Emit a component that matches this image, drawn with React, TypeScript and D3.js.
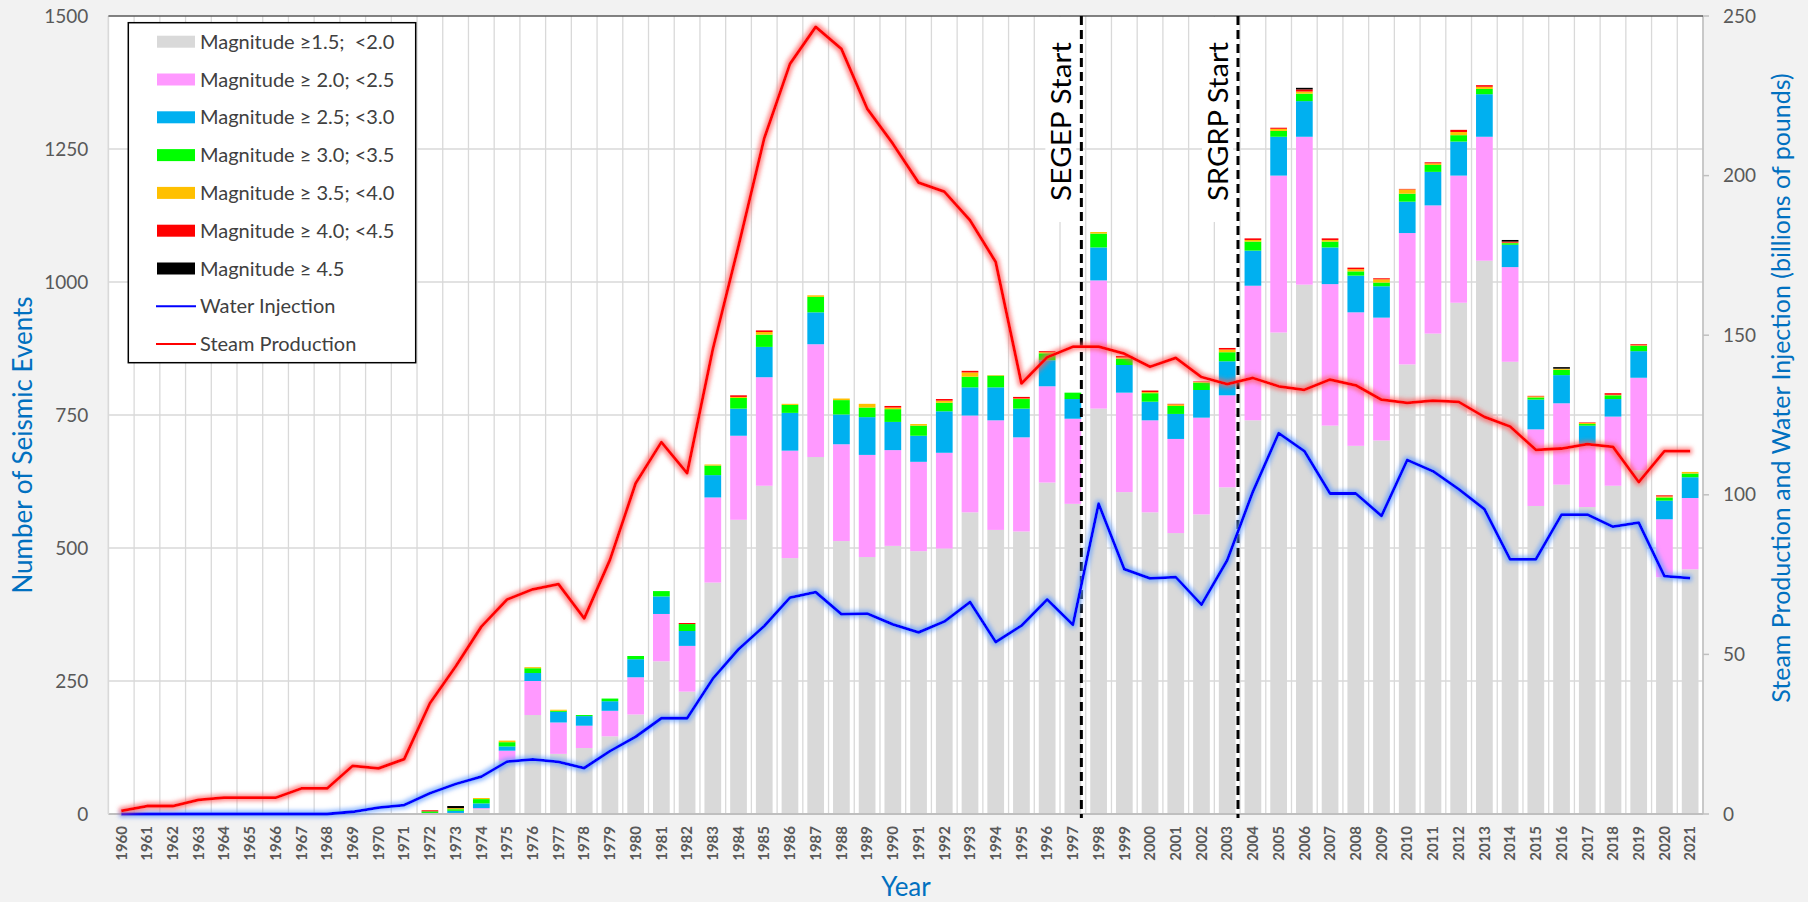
import React from "react";
import * as d3 from "d3";

const years: number[] = d3.range(1960, 2022);

// Seismic event counts by magnitude class (1960..2021)
const mag15: number[] = [0,0,0,0,0,0,0,0,0,0,0,0, 0,2,9,100,186,113,124,146,187,287,230,435,553,617,481,671,513,483,504,494,499,567,534,531,623,583,762,605,567,528,563,614,740,905,995,730,692,702,845,903,961,1040,850,579,619,577,617,646,445,460];
const mag20: number[] = [0,0,0,0,0,0,0,0,0,0,0,0, 1,0,2,19,64,59,42,48,70,89,86,160,158,204,202,212,182,192,180,168,180,182,206,177,181,160,241,187,173,177,182,173,253,295,278,266,251,231,247,241,239,233,178,144,153,118,130,174,109,134];
const mag25: number[] = [0,0,0,0,0,0,0,0,0,0,0,0, 1,4,9,8,15,20,18,18,34,33,28,42,51,57,71,60,56,71,53,49,78,53,62,54,49,37,62,52,35,47,52,64,66,73,67,69,69,59,59,63,64,80,42,56,53,35,33,50,35,39];
const mag30: number[] = [0,0,0,0,0,0,0,0,0,0,0,0, 3,3,8,8,9,2,2,5,6,10,13,18,20,23,15,29,27,18,24,19,16,20,22,18,13,12,26,12,16,15,14,17,17,11,14,11,8,7,15,13,12,10,3,4,10,3,7,10,6,7];
const mag35: number[] = [0,0,0,0,0,0,0,0,0,0,0,0, 0,2,2,3,2,2,0,0,0,0,0,2,2,5,2,3,3,7,3,3,4,8,1,1,2,0,3,2,2,3,1,5,3,4,4,3,4,6,8,3,6,4,1,2,2,2,1,1,2,3];
const mag40: number[] = [0,0,0,0,0,0,0,0,0,0,0,0, 2,0,0,0,0,0,0,0,0,0,2,0,3,3,0,0,0,0,3,0,3,3,0,3,2,0,0,3,3,1,1,3,3,2,4,3,3,2,1,2,4,3,2,1,0,1,3,2,2,0];
const mag45: number[] = [0,0,0,0,0,0,0,0,0,0,0,0, 0,4,0,0,0,0,0,0,0,0,0,0,0,0,0,0,0,0,0,0,0,0,0,0,0,0,0,0,0,0,0,0,0,0,3,0,0,0,0,0,0,0,3,0,3,0,0,0,0,0];

// Right axis series (billions of pounds)
const steamProduction: number[] = [1.0,2.5,2.5,4.4,5.1,5.1,5.1,8.0,8.0,15.1,14.3,17.2,34.7,46.2,58.7,67.2,70.4,72.0,61.3,79.6,103.6,116.5,106.8,145.6,178,211.7,235,246.6,239.7,221,210,197.8,195,186,172.9,134.9,143.1,146.4,146.4,144.2,140.1,142.9,136.9,134.7,136.6,134,132.9,136.1,134.3,129.8,128.8,129.5,129.1,124.4,121.4,114.1,114.5,115.9,115,104,113.7,113.7];
const waterInjection: number[] = [0,0,0,0,0,0,0,0,0,0.7,2.0,2.8,6.5,9.4,11.7,16.4,17.1,16.3,14.4,19.7,24.2,30,30,42.4,51.6,58.9,67.8,69.5,62.6,62.8,59.4,56.9,60.3,66.4,53.9,59,67.2,59.3,97.2,76.7,73.8,74.2,65.6,79.5,101,119.3,113.7,100.4,100.4,93.4,110.9,107.4,101.8,95.5,79.8,79.8,93.8,93.8,90,91.3,74.5,73.9];

const seriesNames: string[] = [
  "Magnitude \u22651.5;  <2.0",
  "Magnitude \u2265 2.0; <2.5",
  "Magnitude \u2265 2.5; <3.0",
  "Magnitude \u2265 3.0; <3.5",
  "Magnitude \u2265 3.5; <4.0",
  "Magnitude \u2265 4.0; <4.5",
  "Magnitude \u2265 4.5",
];
const seriesColors: string[] = ["#d9d9d9", "#ff99ff", "#00b0f0", "#00ff00", "#ffc000", "#ff0000", "#000000"];
const leftTicks: number[] = [0, 250, 500, 750, 1000, 1250, 1500];
const rightTicks: number[] = [0, 50, 100, 150, 200, 250];
const annotations: { label: string; at: number }[] = [
  { label: "SEGEP Start", at: 1997.33 },
  { label: "SRGRP Start", at: 2003.42 },
];

const W = 1808, H = 902;
const L = 108.4, R = 1703, T = 16, B = 814;
const FONT = "Lato, 'Open Sans', sans-serif";

export default function App() {
  const x = d3.scaleBand<number>().domain(years).range([L, R]).paddingInner(0.35).paddingOuter(0.175);
  const step = x.step();
  const bw = x.bandwidth();
  const cx = (yr: number) => (x(yr) as number) + bw / 2;
  const yL = d3.scaleLinear().domain([0, 1500]).range([B, T]);
  const yR = d3.scaleLinear().domain([0, 250]).range([B, T]);
  const xCont = d3.scaleLinear().domain([1960, 2021]).range([cx(1960), cx(2021)]);

  const table = years.map((yr, i) => ({
    year: yr,
    s0: mag15[i], s1: mag20[i], s2: mag25[i], s3: mag30[i], s4: mag35[i], s5: mag40[i], s6: mag45[i],
  }));
  const keys = ["s0", "s1", "s2", "s3", "s4", "s5", "s6"];
  const stacked = d3.stack<any>().keys(keys)(table);

  const line = d3.line<number>().x((_, i) => cx(years[i])).y((v) => yR(v));

  const gridColor = "#d9d9d9";
  const boundaries = years.map((yr) => (x(yr) as number) - (step - bw) / 2).concat([R]);

  return (
    <div style={{ position: "absolute", left: 0, top: 0 }}>
      <svg width={W} height={H} style={{ display: "block", fontFamily: FONT }}>
        <defs>
          <filter id="glowRed" x="-5%" y="-10%" width="110%" height="120%">
            <feMorphology in="SourceAlpha" operator="dilate" radius="2" result="d" />
            <feGaussianBlur in="d" stdDeviation="2.2" result="b" />
            <feFlood floodColor="#ff5a5a" floodOpacity="0.7" />
            <feComposite in2="b" operator="in" result="g" />
            <feMerge>
              <feMergeNode in="g" />
              <feMergeNode in="SourceGraphic" />
            </feMerge>
          </filter>
          <filter id="glowBlue" x="-5%" y="-10%" width="110%" height="120%">
            <feMorphology in="SourceAlpha" operator="dilate" radius="2" result="d" />
            <feGaussianBlur in="d" stdDeviation="2.2" result="b" />
            <feFlood floodColor="#5f9bff" floodOpacity="0.7" />
            <feComposite in2="b" operator="in" result="g" />
            <feMerge>
              <feMergeNode in="g" />
              <feMergeNode in="SourceGraphic" />
            </feMerge>
          </filter>
        </defs>
        <rect x={0} y={0} width={W} height={H} fill="#f2f2f2" />
        <rect x={L} y={T} width={R - L} height={B - T} fill="#ffffff" />

        {/* vertical grid */}
        {boundaries.map((bx, i) => (
          <line key={"vg" + i} x1={bx} x2={bx} y1={T} y2={B} stroke={gridColor} strokeWidth={1.3} />
        ))}
        {/* horizontal grid */}
        {leftTicks.slice(1, -1).map((t) => (
          <line key={"hg" + t} x1={L} x2={R} y1={yL(t)} y2={yL(t)} stroke={gridColor} strokeWidth={1.3} />
        ))}

        {/* bars */}
        {stacked.map((layer, li) => (
          <g key={"layer" + li} fill={seriesColors[li]}>
            {layer.map((d: any, i: number) =>
              d[1] - d[0] > 0 ? (
                <rect key={i} x={x(years[i])} width={bw} y={yL(d[1])} height={yL(d[0]) - yL(d[1])} />
              ) : null
            )}
          </g>
        ))}

        {/* axes lines */}
        <line x1={L} x2={R} y1={B} y2={B} stroke="#bfbfbf" strokeWidth={2} />
        <line x1={L} x2={L} y1={T} y2={B} stroke="#d9d9d9" strokeWidth={1.5} />
        <line x1={R} x2={R} y1={T} y2={B} stroke="#bfbfbf" strokeWidth={1.5} />
        <line x1={L} x2={R} y1={T} y2={T} stroke="#595959" strokeWidth={1.5} />

        {/* annotation labels + dashed lines */}
        {annotations.map((a) => {
          const ax = xCont(a.at);
          return (
            <g key={a.label}>
              <rect x={ax - 36} y={T + 1} width={31} height={205} fill="#ffffff" />
              <text
                transform={`translate(${ax - 10},${201}) rotate(-90)`}
                fontSize={27}
                fill="#000000"
                textLength={159}
                lengthAdjust="spacingAndGlyphs"
              >
                {a.label}
              </text>
              <line x1={ax} x2={ax} y1={T} y2={B + 4} stroke="#000000" strokeWidth={3} strokeDasharray="9,5" />
            </g>
          );
        })}

        {/* lines */}
        <path d={line(waterInjection) as string} fill="none" stroke="#0000ff" strokeWidth={2.8} strokeLinejoin="round" filter="url(#glowBlue)" />
        <path d={line(steamProduction) as string} fill="none" stroke="#ff0000" strokeWidth={2.8} strokeLinejoin="round" filter="url(#glowRed)" />

        {/* left ticks */}
        {leftTicks.map((t) => (
          <text key={"lt" + t} x={L - 20} y={yL(t)} dy="0.35em" textAnchor="end" fontSize={19} fill="#595959">
            {t}
          </text>
        ))}
        {/* right ticks */}
        {rightTicks.map((t) => (
          <g key={"rt" + t}>
            <line x1={R} x2={R + 6} y1={yR(t)} y2={yR(t)} stroke="#bfbfbf" strokeWidth={1.5} />
            <text x={R + 20} y={yR(t)} dy="0.35em" textAnchor="start" fontSize={19} fill="#595959">
              {t}
            </text>
          </g>
        ))}
        {/* x ticks */}
        {years.map((yr) => (
          <text
            key={"xt" + yr}
            transform={`translate(${cx(yr)},${B + 12}) rotate(-90)`}
            dy="0.35em"
            textAnchor="end"
            fontSize={15}
            fontWeight="bold"
            fill="#595959"
          >
            {yr}
          </text>
        ))}

        {/* axis titles */}
        <text transform={`translate(32,445) rotate(-90)`} textAnchor="middle" fontSize={26} fill="#0070c0">
          Number of Seismic Events
        </text>
        <text transform={`translate(1790,388) rotate(-90)`} textAnchor="middle" fontSize={25} fill="#0070c0">
          Steam Production and Water Injection (billions of pounds)
        </text>
        <text x={906} y={896} textAnchor="middle" fontSize={26} fill="#0070c0">
          Year
        </text>

        {/* legend */}
        <g>
          <rect x={128.3} y={22.7} width={287.4} height={340} fill="#ffffff" stroke="#000000" strokeWidth={1.5} />
          {seriesNames.map((n, i) => (
            <g key={"lg" + i}>
              <rect x={157} y={41.7 + i * 37.8 - 6} width={38} height={12} fill={seriesColors[i]} />
              <text x={200} y={41.7 + i * 37.8} dy="0.35em" fontSize={20} fill="#404040" style={{ whiteSpace: "pre" }}>
                {n}
              </text>
            </g>
          ))}
          {[
            { n: "Water Injection", c: "#0000ff" },
            { n: "Steam Production", c: "#ff0000" },
          ].map((e, j) => {
            const yy = 41.7 + (7 + j) * 37.8;
            return (
              <g key={"ll" + j}>
                <line x1={156} x2={196} y1={yy} y2={yy} stroke={e.c} strokeWidth={2} />
                <text x={200} y={yy} dy="0.35em" fontSize={20} fill="#404040">
                  {e.n}
                </text>
              </g>
            );
          })}
        </g>
      </svg>
    </div>
  );
}
